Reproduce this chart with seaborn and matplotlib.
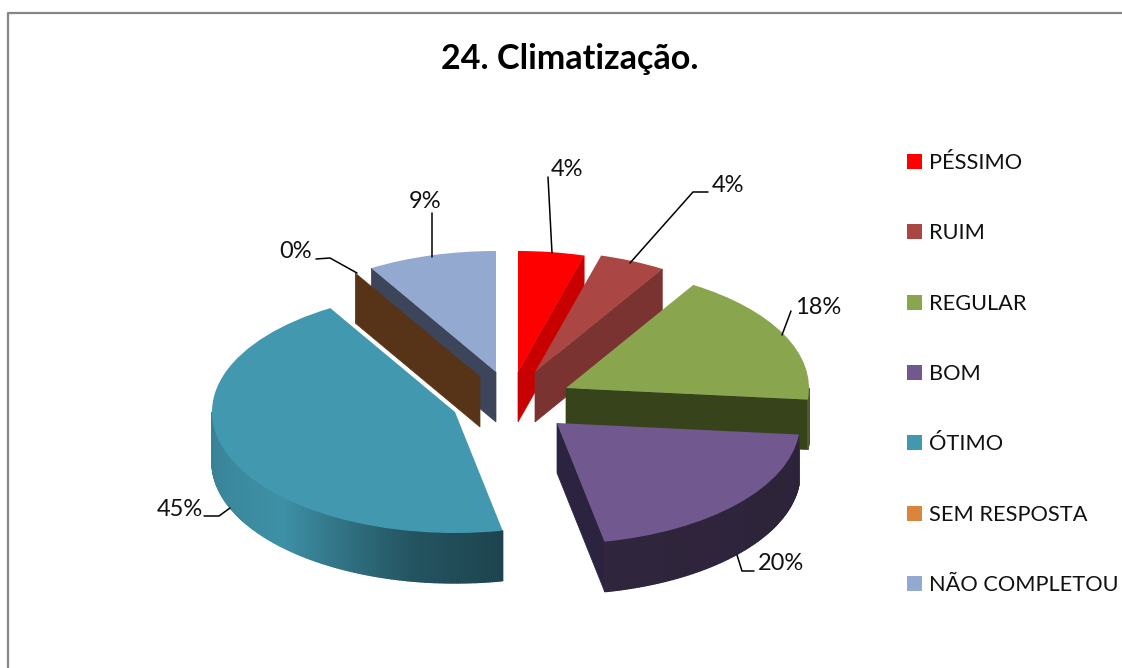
import numpy as np
import seaborn as sns
import matplotlib
matplotlib.use("Agg")
import matplotlib.pyplot as plt
from matplotlib.patches import Patch
from matplotlib.colors import to_rgb

categories = ["PÉSSIMO", "RUIM", "REGULAR", "BOM", "ÓTIMO", "SEM RESPOSTA", "NÃO COMPLETOU"]
values = [4.4, 4.4, 17.8, 20.4, 44.7, 0, 8.6]
pct_labels = ["4%", "4%", "18%", "20%", "45%", "0%", "9%"]
title = "24. Climatização."

# styles / layout
colors = ["#FF0000", "#AA4643", "#89A54E", "#71588F", "#4198AF", "#DB843D", "#93A9CF"]
edge_colors = ["#C80000", "#7A3331", "#37431B", "#2C2340", "#2C2340", "#573317", "#3C4559"]
tip_x = [518, 535, 566, 557, 455, 480, 496]
tip_y = [372, 372, 388, 423, 412, 377, 372]
draw_order = [6, 5, 0, 1, 2, 3, 4]
RX, RY, DEPTH = 243.0, 121.0, 50.0
W, H = 1122, 668
SQ = RY / RX

sns.set_theme(style="white")
plt.rcParams["font.family"] = ["Lato", "DejaVu Sans"]

fig = plt.figure(figsize=(W / 100, H / 100), dpi=100)
ax = fig.add_axes([0, 0, 1, 1])


def Y(py):
    return (H - py) / SQ


def arc_pt(i, deg, drop=0.0):
    t = np.radians(deg)
    return tip_x[i] + RX * np.sin(t), Y(tip_y[i] - RY * np.cos(t) + drop)


def shade(deg):
    return np.interp(deg, [90, 96, 97, 168, 169, 190, 225, 270],
                     [.55, .55, .40, .42, .45, .55, .95, .85])


def edge_wall(i, deg, color):
    x0, y0 = tip_x[i], Y(tip_y[i])
    x1, y1 = arc_pt(i, deg)
    x2, y2 = arc_pt(i, deg, DEPTH)
    ax.fill([x0, x1, x2, x0], [y0, y1, y2, Y(tip_y[i] + DEPTH)],
            color=color, lw=0.5)


cum = np.concatenate([[0], np.cumsum(values)]) * 360 / sum(values)
for i in draw_order:
    a0, a1 = cum[i], cum[i + 1]
    # radial walls facing the viewer
    if 0 < a1 <= 180:
        edge_wall(i, a1, edge_colors[i])
    if 180 < a0 < 360:
        edge_wall(i, a0, edge_colors[i])
    # outer wall
    lo, hi = max(a0, 90), min(a1, 270)
    if hi > lo:
        grid = np.linspace(lo, hi, int((hi - lo) * 2) + 2)
        for g0, g1 in zip(grid[:-1], grid[1:]):
            c = np.clip(np.array(to_rgb(colors[i])) * shade((g0 + g1) / 2), 0, 1)
            p0, p1 = arc_pt(i, g0), arc_pt(i, g1)
            p2, p3 = arc_pt(i, g1, DEPTH), arc_pt(i, g0, DEPTH)
            ax.fill([p0[0], p1[0], p2[0], p3[0]], [p0[1], p1[1], p2[1], p3[1]],
                    color=c, lw=1.0)
    # top surface
    if values[i] > 0:
        ax.pie([values[i] / sum(values)], colors=[colors[i]], normalize=False,
               startangle=90 - a0, counterclock=False, radius=RX,
               center=(tip_x[i], Y(tip_y[i])), frame=True,
               wedgeprops={"linewidth": 0})

ax.set_aspect("auto")
ax.set_xlim(0, W)
ax.set_ylim(0, H / SQ)
ax.set_xticks([])
ax.set_yticks([])
ax.set_frame_on(False)

# chart border
ax.plot([8, 8, W], [Y(H), Y(13), Y(13)], color="#868686", lw=1.6, solid_capstyle="butt")

# title
ax.text(570, Y(59), title, ha="center", va="center", fontsize=24.6, fontweight="bold", color="black")

# leader lines
leaders = [
    ([548, 552], [177, 253]),
    ([708, 693, 630], [192, 192, 263]),
    ([791, 782], [311, 335]),
    ([737, 742, 754], [555, 571, 571]),
    ([204, 219, 230], [516, 516, 508]),
    ([316, 330, 357], [259, 258, 273]),
    ([432, 432], [213, 257]),
]
for xs, ys in leaders:
    ax.plot(xs, [Y(v) for v in ys], color="black", lw=1.1)

# percent labels
label_xy = [(567, 169), (728, 186), (818, 307), (781, 564), (180, 510), (296, 252), (425, 201)]
for s, (x, y) in zip(pct_labels, label_xy):
    ax.text(x, Y(y), s, ha="center", va="center", fontsize=17, color="#111111")

# legend
handles = [Patch(facecolor=c, edgecolor="none", label=n) for c, n in zip(colors, categories)]
leg = ax.legend(handles=handles, loc="upper left", bbox_to_anchor=(907 / W, 1 - 153 / H),
                frameon=False, fontsize=15.7, borderpad=0, borderaxespad=0,
                handlelength=0.68, handleheight=0.68, handletextpad=0.32,
                labelspacing=2.31, labelcolor="#111111")

fig.savefig("out.png", dpi=100, facecolor="white")
